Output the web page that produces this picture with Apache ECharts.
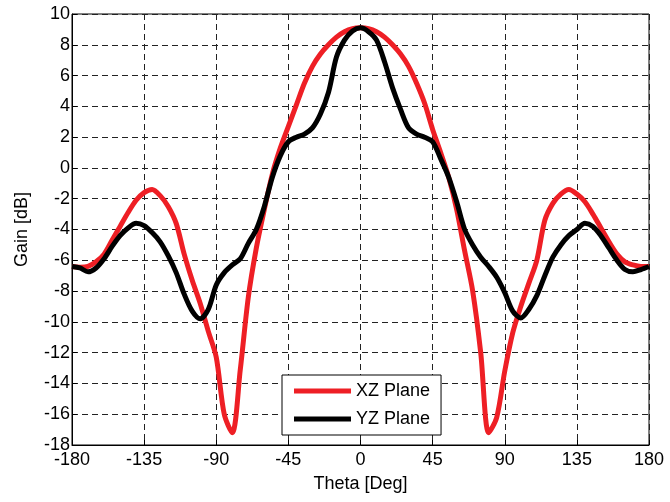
<!DOCTYPE html>
<html>
<head>
<meta charset="utf-8">
<script src="https://cdn.jsdelivr.net/npm/echarts@6/dist/echarts.min.js"></script>
<style>
  html, body { margin: 0; padding: 0; background: #fff; }
  #chart { width: 670px; height: 502px; }
</style>
</head>
<body>
<div id="chart"></div>
<script>
// theta in degrees, 5 deg steps
const theta = [
  -180, -175, -170, -165, -160, -155, -150, -145, -140, -135, -130, -125,
  -120, -115, -110, -105, -100, -95, -90, -85, -80, -75, -70, -65,
  -60, -55, -50, -45, -40, -35, -30, -25, -20, -15, -10, -5,
  0, 5, 10, 15, 20, 25, 30, 35, 40, 45, 50, 55,
  60, 65, 70, 75, 80, 85, 90, 95, 100, 105, 110, 115,
  120, 125, 130, 135, 140, 145, 150, 155, 160, 165, 170, 175, 180
]

const xzGain = [
  -6.4, -6.45, -6.4, -6.1, -5.6, -4.7, -3.8, -2.9, -2.1, -1.6, -1.4, -1.8,
  -2.5, -3.6, -5.6, -7.3, -8.8, -10.6, -12.3, -16.0, -17.2, -13.1, -8.4, -5.2,
  -2.7, -0.4, 1.3, 2.7, 4.1, 5.5, 6.6, 7.4, 8.0, 8.5, 8.85, 9.05,
  9.1, 9.05, 8.85, 8.5, 8.0, 7.4, 6.6, 5.5, 4.2, 2.5, 1.0, -0.6,
  -2.7, -5.4, -8.0, -12.0, -17.2, -16.2, -13.2, -10.7, -9.0, -7.5, -6.0, -3.4,
  -2.3, -1.7, -1.4, -1.7, -2.2, -3.0, -3.9, -4.8, -5.6, -6.1, -6.3, -6.4, -6.4
]

const yzGain = [
  -6.4, -6.5, -6.75, -6.5, -5.9, -5.1, -4.4, -3.9, -3.6, -3.75, -4.2, -4.8,
  -5.7, -6.8, -8.2, -9.3, -9.8, -9.2, -7.6, -6.8, -6.3, -5.9, -4.9, -4.0,
  -2.5, -0.6, 0.8, 1.7, 2.0, 2.2, 2.6, 3.5, 4.9, 7.2, 8.3, 8.9,
  9.1, 8.85, 8.3, 6.9, 5.2, 3.8, 2.6, 2.2, 2.0, 1.7, 0.6, -0.6,
  -2.2, -4.0, -5.0, -5.8, -6.4, -7.1, -8.1, -9.3, -9.75, -9.2, -8.3, -7.0,
  -5.8, -5.0, -4.4, -4.0, -3.6, -3.8, -4.4, -5.2, -6.0, -6.6, -6.75, -6.6, -6.4
]

const seriesNames = ['XZ Plane', 'YZ Plane']
const seriesColors = ['#ee1f25', '#000000']

const fontFamily = 'Liberation Sans, Arial, sans-serif'
const fontSize = 18

const myChart = echarts.init(document.getElementById('chart'), null, { renderer: 'canvas' })

const gridLine = {
  show: true,
  lineStyle: { color: '#222', width: 1, type: [6, 4] },
}

const toPairs = (ys) => theta.map((t, i) => [t, ys[i]])

myChart.setOption({
  animation: false,
  backgroundColor: '#fff',
  grid: {
    left: 72,
    right: 21,
    top: 14,
    bottom: 57,
    show: true,
    borderColor: '#000',
    borderWidth: 1,
  },
  legend: {
    orient: 'vertical',
    left: 282,
    top: 375,
    padding: [7, 11, 7, 12],
    itemGap: 10,
    itemWidth: 57,
    itemHeight: 5,
    icon: 'rect',
    backgroundColor: '#fff',
    borderColor: '#000',
    borderWidth: 1,
    borderRadius: 0,
    data: seriesNames,
    textStyle: { color: '#000', fontFamily, fontSize, letterSpacing: -0.5 },
  },
  xAxis: {
    type: 'value',
    min: -180,
    max: 180,
    interval: 45,
    name: 'Theta [Deg]',
    nameLocation: 'middle',
    nameGap: 30,
    nameTextStyle: { color: '#000', fontFamily, fontSize, letterSpacing: -0.5 },
    axisLine: { show: true, onZero: false, lineStyle: { color: '#000', width: 1 } },
    axisTick: { show: true, inside: true, length: 5, lineStyle: { color: '#000' } },
    axisLabel: { color: '#000', fontFamily, fontSize, margin: 6, letterSpacing: -0.5 },
    splitLine: gridLine,
  },
  yAxis: {
    type: 'value',
    min: -18,
    max: 10,
    interval: 2,
    name: 'Gain [dB]',
    nameLocation: 'middle',
    nameGap: 41,
    nameTextStyle: { color: '#000', fontFamily, fontSize, letterSpacing: -0.5 },
    axisLine: { show: true, onZero: false, lineStyle: { color: '#000', width: 1 } },
    axisTick: { show: true, inside: true, length: 5, lineStyle: { color: '#000' } },
    axisLabel: { color: '#000', fontFamily, fontSize, margin: 2, letterSpacing: -0.5 },
    splitLine: gridLine,
  },
  series: [
    {
      name: seriesNames[0],
      type: 'line',
      data: toPairs(xzGain),
      symbol: 'none',
      smooth: 0.3,
      color: seriesColors[0],
      lineStyle: { width: 5, color: seriesColors[0] },
      emphasis: { disabled: true },
    },
    {
      name: seriesNames[1],
      type: 'line',
      data: toPairs(yzGain),
      symbol: 'none',
      smooth: 0.3,
      color: seriesColors[1],
      lineStyle: { width: 5, color: seriesColors[1] },
      emphasis: { disabled: true },
    },
  ],
})
</script>
</body>
</html>
